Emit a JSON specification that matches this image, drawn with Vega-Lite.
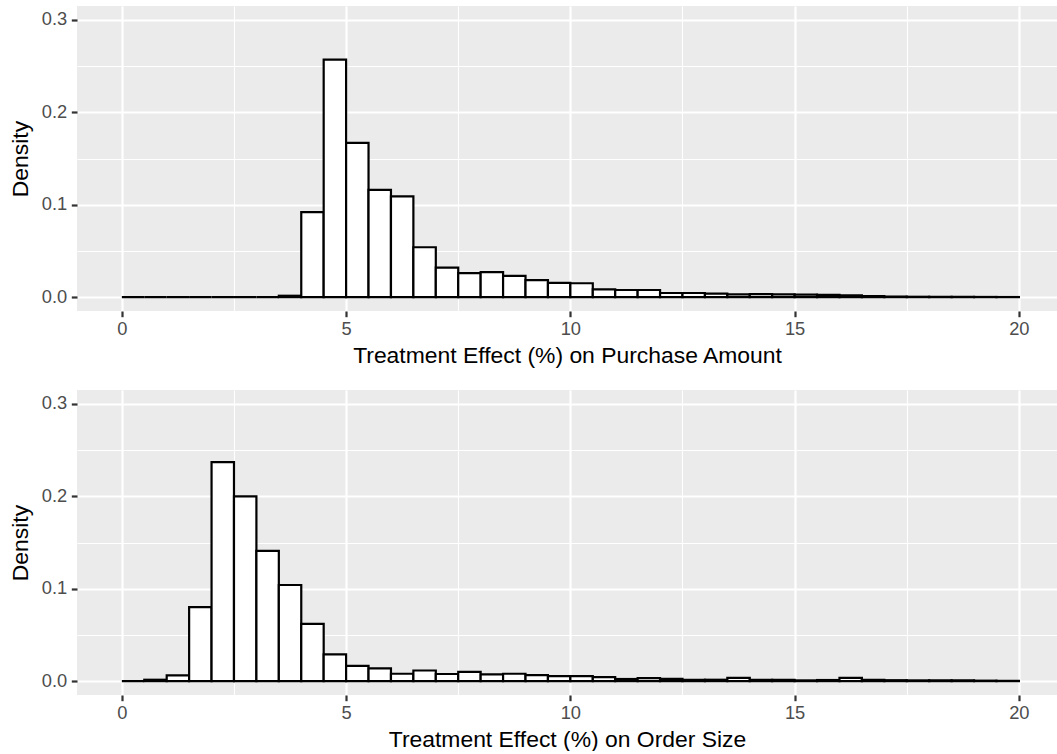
{
  "$schema": "https://vega.github.io/schema/vega-lite/v6.json",
  "padding": {"left": 9, "top": 6, "right": 0, "bottom": 0},
  "background": "white",
  "spacing": 79,
  "bounds": "flush",
  "config": {
    "font": "Liberation Sans",
    "view": {"fill": "#EBEBEB", "stroke": null},
    "axis": {
      "domain": false,
      "tickColor": "#333333",
      "tickWidth": 2.2,
      "tickSize": 5.7,
      "labelColor": "#4D4D4D",
      "labelFontSize": 18.3,
      "labelFont": "Liberation Sans",
      "labelOverlap": false,
      "labelFlush": false,
      "titleFont": "Liberation Sans",
      "titleFontSize": 22.9,
      "titleFontWeight": "normal",
      "titleColor": "black",
      "gridColor": "white"
    }
  },
  "datasets": {
    "purchase": [
      {"bin_start": 0.0, "bin_end": 0.5, "density": 0},
      {"bin_start": 0.5, "bin_end": 1.0, "density": 0},
      {"bin_start": 1.0, "bin_end": 1.5, "density": 0},
      {"bin_start": 1.5, "bin_end": 2.0, "density": 0},
      {"bin_start": 2.0, "bin_end": 2.5, "density": 0},
      {"bin_start": 2.5, "bin_end": 3.0, "density": 0},
      {"bin_start": 3.0, "bin_end": 3.5, "density": 0},
      {"bin_start": 3.5, "bin_end": 4.0, "density": 0.0015},
      {"bin_start": 4.0, "bin_end": 4.5, "density": 0.092},
      {"bin_start": 4.5, "bin_end": 5.0, "density": 0.257},
      {"bin_start": 5.0, "bin_end": 5.5, "density": 0.167},
      {"bin_start": 5.5, "bin_end": 6.0, "density": 0.116},
      {"bin_start": 6.0, "bin_end": 6.5, "density": 0.109},
      {"bin_start": 6.5, "bin_end": 7.0, "density": 0.054},
      {"bin_start": 7.0, "bin_end": 7.5, "density": 0.032},
      {"bin_start": 7.5, "bin_end": 8.0, "density": 0.026},
      {"bin_start": 8.0, "bin_end": 8.5, "density": 0.027},
      {"bin_start": 8.5, "bin_end": 9.0, "density": 0.023},
      {"bin_start": 9.0, "bin_end": 9.5, "density": 0.0185},
      {"bin_start": 9.5, "bin_end": 10.0, "density": 0.0155},
      {"bin_start": 10.0, "bin_end": 10.5, "density": 0.015},
      {"bin_start": 10.5, "bin_end": 11.0, "density": 0.0085},
      {"bin_start": 11.0, "bin_end": 11.5, "density": 0.0077},
      {"bin_start": 11.5, "bin_end": 12.0, "density": 0.0077},
      {"bin_start": 12.0, "bin_end": 12.5, "density": 0.0045},
      {"bin_start": 12.5, "bin_end": 13.0, "density": 0.0045},
      {"bin_start": 13.0, "bin_end": 13.5, "density": 0.0038},
      {"bin_start": 13.5, "bin_end": 14.0, "density": 0.003},
      {"bin_start": 14.0, "bin_end": 14.5, "density": 0.0032},
      {"bin_start": 14.5, "bin_end": 15.0, "density": 0.003},
      {"bin_start": 15.0, "bin_end": 15.5, "density": 0.0028},
      {"bin_start": 15.5, "bin_end": 16.0, "density": 0.0025},
      {"bin_start": 16.0, "bin_end": 16.5, "density": 0.0018},
      {"bin_start": 16.5, "bin_end": 17.0, "density": 0.0012},
      {"bin_start": 17.0, "bin_end": 17.5, "density": 0.0006},
      {"bin_start": 17.5, "bin_end": 18.0, "density": 0.0004},
      {"bin_start": 18.0, "bin_end": 18.5, "density": 0.0003},
      {"bin_start": 18.5, "bin_end": 19.0, "density": 0.0002},
      {"bin_start": 19.0, "bin_end": 19.5, "density": 0.0002},
      {"bin_start": 19.5, "bin_end": 20.0, "density": 0.0001}
    ],
    "order": [
      {"bin_start": 0.0, "bin_end": 0.5, "density": 0},
      {"bin_start": 0.5, "bin_end": 1.0, "density": 0.0015},
      {"bin_start": 1.0, "bin_end": 1.5, "density": 0.0062},
      {"bin_start": 1.5, "bin_end": 2.0, "density": 0.080},
      {"bin_start": 2.0, "bin_end": 2.5, "density": 0.237},
      {"bin_start": 2.5, "bin_end": 3.0, "density": 0.200},
      {"bin_start": 3.0, "bin_end": 3.5, "density": 0.141},
      {"bin_start": 3.5, "bin_end": 4.0, "density": 0.104},
      {"bin_start": 4.0, "bin_end": 4.5, "density": 0.062},
      {"bin_start": 4.5, "bin_end": 5.0, "density": 0.029},
      {"bin_start": 5.0, "bin_end": 5.5, "density": 0.0165},
      {"bin_start": 5.5, "bin_end": 6.0, "density": 0.0138},
      {"bin_start": 6.0, "bin_end": 6.5, "density": 0.008},
      {"bin_start": 6.5, "bin_end": 7.0, "density": 0.0115},
      {"bin_start": 7.0, "bin_end": 7.5, "density": 0.0077},
      {"bin_start": 7.5, "bin_end": 8.0, "density": 0.010},
      {"bin_start": 8.0, "bin_end": 8.5, "density": 0.0073},
      {"bin_start": 8.5, "bin_end": 9.0, "density": 0.008},
      {"bin_start": 9.0, "bin_end": 9.5, "density": 0.0065},
      {"bin_start": 9.5, "bin_end": 10.0, "density": 0.0055},
      {"bin_start": 10.0, "bin_end": 10.5, "density": 0.0054},
      {"bin_start": 10.5, "bin_end": 11.0, "density": 0.0043},
      {"bin_start": 11.0, "bin_end": 11.5, "density": 0.0023},
      {"bin_start": 11.5, "bin_end": 12.0, "density": 0.0033},
      {"bin_start": 12.0, "bin_end": 12.5, "density": 0.0025},
      {"bin_start": 12.5, "bin_end": 13.0, "density": 0.0015},
      {"bin_start": 13.0, "bin_end": 13.5, "density": 0.0015},
      {"bin_start": 13.5, "bin_end": 14.0, "density": 0.0035},
      {"bin_start": 14.0, "bin_end": 14.5, "density": 0.0015},
      {"bin_start": 14.5, "bin_end": 15.0, "density": 0.0015},
      {"bin_start": 15.0, "bin_end": 15.5, "density": 0.0008},
      {"bin_start": 15.5, "bin_end": 16.0, "density": 0.0012},
      {"bin_start": 16.0, "bin_end": 16.5, "density": 0.0035},
      {"bin_start": 16.5, "bin_end": 17.0, "density": 0.0015},
      {"bin_start": 17.0, "bin_end": 17.5, "density": 0.001},
      {"bin_start": 17.5, "bin_end": 18.0, "density": 0.0008},
      {"bin_start": 18.0, "bin_end": 18.5, "density": 0.0008},
      {"bin_start": 18.5, "bin_end": 19.0, "density": 0.0008},
      {"bin_start": 19.0, "bin_end": 19.5, "density": 0.0005},
      {"bin_start": 19.5, "bin_end": 20.0, "density": 0.0003}
    ]
  },
  "vconcat": [
    {
      "width": 980,
      "height": 305,
      "data": {"name": "purchase"},
      "mark": {"type": "bar", "fill": "white", "stroke": "black", "strokeWidth": 2.2},
      "encoding": {
        "x": {
          "field": "bin_start", "type": "quantitative",
          "scale": {"domain": [-1, 20.85], "nice": false, "zero": false},
          "axis": {
            "title": "Treatment Effect (%) on Purchase Amount",
            "values": [0, 2.5, 5, 7.5, 10, 12.5, 15, 17.5, 20],
            "labelExpr": "datum.value % 5 === 0 ? format(datum.value, 'd') : ''",
            "labelPadding": 4,
            "titlePadding": 6,
            "gridWidth": {"condition": {"test": "datum.value % 5 === 0", "value": 2.2}, "value": 1.1},
            "tickOpacity": {"condition": {"test": "datum.value % 5 === 0", "value": 1}, "value": 0}
          }
        },
        "x2": {"field": "bin_end"},
        "y": {
          "field": "density", "type": "quantitative",
          "scale": {"domain": [-0.015, 0.315], "nice": false, "zero": false},
          "axis": {
            "title": "Density",
            "values": [0, 0.05, 0.1, 0.15, 0.2, 0.25, 0.3],
            "labelExpr": "abs(datum.value * 10 - round(datum.value * 10)) < 0.001 ? format(datum.value, '.1f') : ''",
            "labelPadding": 4.6,
            "titlePadding": 9,
            "gridWidth": {"condition": {"test": "abs(datum.value * 10 - round(datum.value * 10)) < 0.001", "value": 2.2}, "value": 1.1},
            "tickOpacity": {"condition": {"test": "abs(datum.value * 10 - round(datum.value * 10)) < 0.001", "value": 1}, "value": 0}
          }
        },
        "y2": {"datum": 0}
      }
    },
    {
      "width": 980,
      "height": 305,
      "data": {"name": "order"},
      "mark": {"type": "bar", "fill": "white", "stroke": "black", "strokeWidth": 2.2},
      "encoding": {
        "x": {
          "field": "bin_start", "type": "quantitative",
          "scale": {"domain": [-1, 20.85], "nice": false, "zero": false},
          "axis": {
            "title": "Treatment Effect (%) on Order Size",
            "values": [0, 2.5, 5, 7.5, 10, 12.5, 15, 17.5, 20],
            "labelExpr": "datum.value % 5 === 0 ? format(datum.value, 'd') : ''",
            "labelPadding": 4,
            "titlePadding": 6,
            "gridWidth": {"condition": {"test": "datum.value % 5 === 0", "value": 2.2}, "value": 1.1},
            "tickOpacity": {"condition": {"test": "datum.value % 5 === 0", "value": 1}, "value": 0}
          }
        },
        "x2": {"field": "bin_end"},
        "y": {
          "field": "density", "type": "quantitative",
          "scale": {"domain": [-0.015, 0.315], "nice": false, "zero": false},
          "axis": {
            "title": "Density",
            "values": [0, 0.05, 0.1, 0.15, 0.2, 0.25, 0.3],
            "labelExpr": "abs(datum.value * 10 - round(datum.value * 10)) < 0.001 ? format(datum.value, '.1f') : ''",
            "labelPadding": 4.6,
            "titlePadding": 9,
            "gridWidth": {"condition": {"test": "abs(datum.value * 10 - round(datum.value * 10)) < 0.001", "value": 2.2}, "value": 1.1},
            "tickOpacity": {"condition": {"test": "abs(datum.value * 10 - round(datum.value * 10)) < 0.001", "value": 1}, "value": 0}
          }
        },
        "y2": {"datum": 0}
      }
    }
  ]
}
